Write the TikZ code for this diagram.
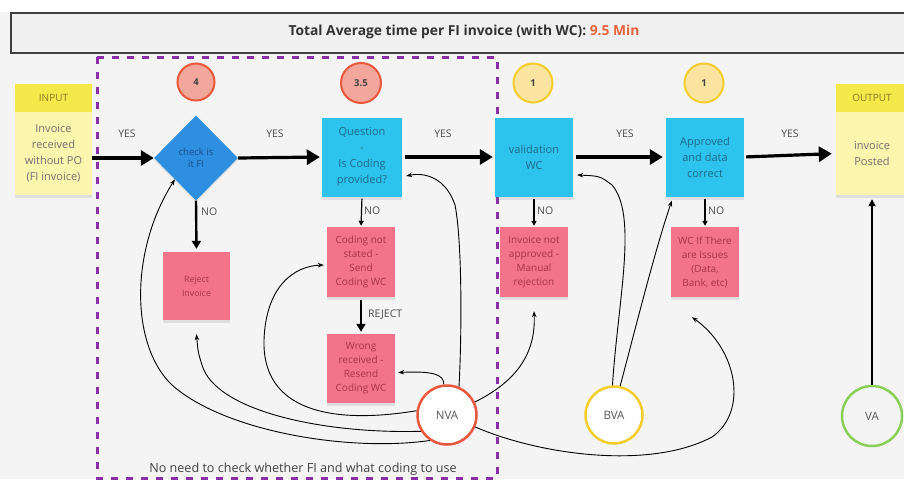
\documentclass[tikz,border=0pt]{standalone}
\usepackage{fontspec}
\setmainfont{Open Sans}
\usetikzlibrary{arrows.meta,shapes.geometric,shadows,calc}
\definecolor{bgc}{HTML}{F4F4F4}
\definecolor{titlefill}{HTML}{F0F0F0}
\definecolor{titleorange}{HTML}{E8643C}
\definecolor{dashpurple}{HTML}{8B2FA6}
\definecolor{yhead}{HTML}{F4E84A}
\definecolor{ybody}{HTML}{FCF5AE}
\definecolor{ytext}{HTML}{8A7A2A}
\definecolor{graytext}{HTML}{707070}
\definecolor{diablue}{HTML}{2E8FE0}
\definecolor{diatext}{HTML}{1B4F8A}
\definecolor{cyanc}{HTML}{2DC3EC}
\definecolor{cyantext}{HTML}{1F6A8A}
\definecolor{pinkc}{HTML}{F2738A}
\definecolor{pinktext}{HTML}{A8344A}
\definecolor{redfill}{HTML}{F3A69C}
\definecolor{redline}{HTML}{E9573D}
\definecolor{yelfill}{HTML}{FBE3A0}
\definecolor{yelline}{HTML}{F2CD2C}
\definecolor{greenline}{HTML}{8CCF5A}
\tikzset{
  note/.style={rectangle, inner sep=0pt, align=center, font=\fontsize{11}{16}\selectfont,
    drop shadow={shadow xshift=0pt, shadow yshift=-3pt, opacity=0.18}},
  headbox/.style={rectangle, inner sep=0pt, fill=yhead, text=ytext, minimum height=28pt,
    font=\fontsize{10}{11}\selectfont},
  bodybox/.style={note, fill=ybody, text=graytext, minimum height=83pt},
  cyanbox/.style={note, fill=cyanc, text=cyantext, minimum width=79pt, minimum height=79pt},
  pinkbox/.style={note, fill=pinkc, text=pinktext, minimum width=68pt, minimum height=70pt,
    font=\fontsize{10}{14}\selectfont},
  numred/.style={circle, draw=redline, fill=redfill, line width=2pt, minimum size=37pt,
    inner sep=0pt, font=\fontsize{9.5}{10}\selectfont\bfseries, text=black!75},
  numyel/.style={circle, draw=yelline, fill=yelfill, line width=2pt, minimum size=39pt,
    inner sep=0pt, font=\fontsize{9.5}{10}\selectfont\bfseries, text=black!75},
  valcirc/.style={circle, fill=white, line width=2.5pt, minimum size=59pt, inner sep=0pt,
    font=\fontsize{11.5}{13}\selectfont, text=black!65},
  bigarrow/.style={line width=3.2pt, -{Triangle[length=13pt,width=15pt]}},
  midarrow/.style={line width=2.4pt, -{Triangle[length=8pt,width=9pt]}},
  smallarrow/.style={line width=1.2pt, -{Triangle[length=5pt,width=5pt]}},
  thin/.style={line width=0.9pt, -{Stealth[length=6pt,width=4.5pt]}},
  lbl/.style={font=\fontsize{10.5}{12}\selectfont, text=black!70, inner sep=1pt},
}
\begin{document}
\begin{tikzpicture}[x=1pt,y=-1pt]
\useasboundingbox (0,0) rectangle (904,479);
\clip (0,0) rectangle (904,479);
\fill[bgc] (0,0) rectangle (904,479);
\fill[white] (0,0) rectangle (904,12);
% title
\node[draw=black!75, line width=1.5pt, fill=titlefill, minimum width=900pt, minimum height=40pt,
  anchor=north west] (title) at (10,12) {};
\node[font=\fontsize{13.8}{16}\selectfont\bfseries, text=black!80] (titletext) at (464,32)
  {Total Average time per FI invoice (with WC): \textcolor{titleorange}{9.5 Min}};
% dashed region
\draw[dashpurple, line width=3pt, dash pattern=on 7pt off 8pt] (97,57) rectangle (497,478);
% input
\node[headbox, minimum width=77pt] (inhead) at (53.5,98) {INPUT};
\node[bodybox, minimum width=77pt] (inbody) at (53.5,153.5) {Invoice\\received\\without PO\\(FI invoice)};
% circles with numbers
\node[numred] (c4) at (196,82) {4};
\node[numred, minimum size=40pt] (c35) at (361,83) {3.5};
\node[numyel] (c1a) at (533,83) {1};
\node[numyel] (c1b) at (704,83) {1};
% main row
\node[diamond, fill=diablue, text=diatext, minimum width=84pt, minimum height=85pt, inner sep=0pt,
  align=center, font=\fontsize{9.5}{12}\selectfont,
  drop shadow={shadow xshift=0pt, shadow yshift=-2pt, opacity=0.15}] (dia) at (196,158) {check is\\it FI};
\node[cyanbox, minimum width=80pt] (q) at (362,157) {Question\\-\\Is Coding\\provided?};
\node[cyanbox, minimum width=78pt] (val) at (534,157) {validation\\WC};
\node[cyanbox, minimum width=78pt] (apr) at (705,157) {Approved\\and data\\correct};
\node[headbox, minimum width=72pt] (outhead) at (872,98) {OUTPUT};
\node[bodybox, minimum width=72pt] (outbody) at (872,153.5) {invoice\\Posted};
% lower boxes
\node[pinkbox, minimum width=67pt, minimum height=68pt, font=\fontsize{8.8}{14}\selectfont] (rej) at (196.5,286) {Reject\\Invoice};
\node[pinkbox] (cns) at (361,262) {Coding not\\stated -\\Send\\Coding WC};
\node[pinkbox, minimum height=69pt] (wr) at (361,368.5) {Wrong\\received -\\Resend\\Coding WC};
\node[pinkbox] (ina) at (534,262) {Invoice not\\approved -\\Manual\\rejection};
\node[pinkbox] (wci) at (705,262) {WC If There\\are Issues\\(Data,\\Bank, etc)};
% value circles
\node[valcirc, draw=redline] (nva) at (447,415) {NVA};
\node[valcirc, draw=yelline, minimum size=57pt] (bva) at (614,415) {BVA};
\node[valcirc, draw=greenline, fill=none, minimum size=60pt] (va) at (872,416) {VA};
% main flow arrows
\draw[bigarrow] (dia.west -| inbody.east) -- (dia.west);
\node[lbl] (y1) at (127,134) {YES};
\draw[bigarrow, shorten >=2pt] (dia.east) -- (q.west);
\node[lbl] (y2) at (275,134) {YES};
\draw[bigarrow, shorten <=3pt, shorten >=2pt] (q.east) -- (val.west);
\node[lbl] (y3) at (443,134) {YES};
\draw[bigarrow, shorten <=3pt, shorten >=3pt] (val.east) -- (apr.west);
\node[lbl] (y4) at (625,134) {YES};
\draw[bigarrow, shorten <=2pt, shorten >=4pt] (apr.east) -- (outbody.west);
\node[lbl] (y5) at (790,134) {YES};
% NO arrows
\draw[midarrow, shorten >=3pt] (dia.south) -- (rej.north);
\node[lbl, anchor=west] (n1) at (200,212) {NO};
\draw[smallarrow, shorten <=2pt, shorten >=1pt] (q.south) -- (cns.north);
\node[lbl, anchor=west] (n2) at (363,211) {NO};
\draw[midarrow, shorten <=3pt, shorten >=2pt] (cns.south) -- (wr.north);
\node[lbl, anchor=west] (rj) at (367,315) {REJECT};
\draw[smallarrow, shorten <=2pt, shorten >=1pt] (val.south) -- (ina.north);
\node[lbl, anchor=west] (n3) at (536,211) {NO};
\draw[smallarrow, shorten <=2pt, shorten >=1pt] (apr.south) -- (wci.north);
\node[lbl, anchor=west] (n4) at (707,211) {NO};
% VA to output
\draw[line width=1.6pt, -{Triangle[length=7pt,width=7pt]}] (va.north) -- ([yshift=-4pt]outbody.south);
% NVA connectors
\draw[thin] (nva.172) .. controls (330,425) and (262,410) .. (264,340)
  .. controls (266,285) and (295,266) .. ([xshift=-3pt,yshift=-3pt]cns.west);
\draw[thin] (nva.212) .. controls (320,434) and (215,410) .. (202,365)
  .. controls (198,352) .. ([yshift=-14pt]rej.south);
\draw[thin] (nva.236) .. controls (350,452) and (225,432) .. (172,385)
  .. controls (130,345) and (130,250) .. (dia.south west);
\draw[thin] (nva.96) .. controls (444,374) and (432,371) .. ([xshift=3pt,yshift=-4pt]wr.east);
\draw[thin] (nva.67) .. controls (462,330) and (462,240) .. (455,205)
  .. controls (446,178) and (425,172) .. ([xshift=4pt,yshift=-19pt]q.east);
\draw[thin] (nva.25) .. controls (515,382) and (536,355) .. ([yshift=-14pt]ina.south);
\draw[thin] (nva.-23) .. controls (540,455) and (650,470) .. (712,437)
  .. controls (748,412) and (738,350) .. ([xshift=-13pt,yshift=-20pt]wci.south);
% BVA connectors
\draw[thin] (bva.93) .. controls (618,300) and (638,215) .. (612,185)
  .. controls (600,176) .. ([xshift=4pt,yshift=-18pt]val.east);
\draw[thin] (bva.78) .. controls (635,330) and (655,250) .. ([xshift=6pt,yshift=-4pt]apr.south west);
% bottom note
\node[font=\fontsize{12.6}{14}\selectfont, text=black!75] (note) at (303,469) {No need to check whether FI and what coding to use};
\end{tikzpicture}
\end{document}
